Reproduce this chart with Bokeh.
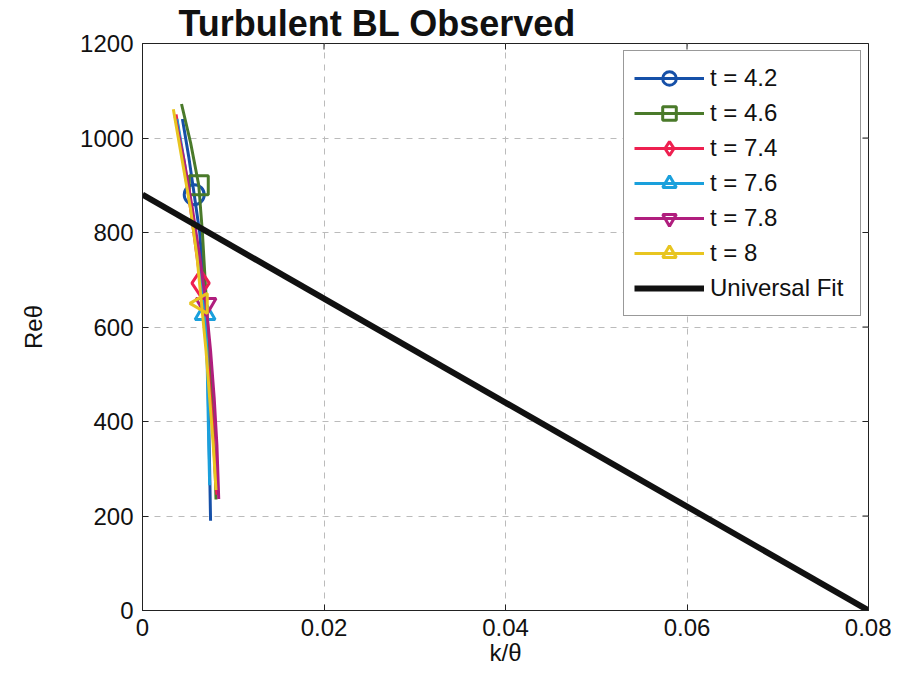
import math
from bokeh.plotting import figure
from bokeh.models import Range1d, FixedTicker, Legend, LegendItem, CustomJSTickFormatter
from bokeh.embed import file_html
from bokeh.resources import INLINE

# ---- data ----
labels = ["t = 4.2", "t = 4.6", "t = 7.4", "t = 7.6", "t = 7.8", "t = 8"]

x_t42 = [0.0044, 0.0051, 0.0057, 0.0063, 0.0067, 0.0070, 0.0072, 0.0073, 0.0074, 0.0075]
y_t42 = [1040, 960, 880, 800, 700, 600, 500, 400, 300, 190]

x_t46 = [0.0043, 0.0053, 0.0062, 0.0066, 0.0069, 0.0072, 0.0075, 0.0078, 0.0080, 0.0081]
y_t46 = [1072, 990, 900, 800, 700, 600, 500, 400, 300, 235]

x_t74 = [0.0037, 0.0045, 0.0053, 0.0060, 0.0064, 0.0069, 0.0073, 0.0077, 0.0080, 0.0082]
y_t74 = [1050, 950, 850, 750, 693, 600, 500, 400, 300, 245]

x_t76 = [0.0038, 0.0046, 0.0054, 0.0061, 0.0069, 0.0071, 0.0072, 0.0073, 0.0074]
y_t76 = [1040, 950, 850, 750, 628, 550, 450, 350, 265]

x_t78 = [0.0036, 0.0046, 0.0055, 0.0063, 0.0070, 0.0075, 0.0079, 0.0082, 0.0084]
y_t78 = [1045, 950, 850, 750, 648, 550, 450, 350, 236]

x_t8 = [0.0034, 0.0044, 0.0053, 0.0060, 0.0065, 0.0070, 0.0074, 0.0078, 0.0081]
y_t8 = [1061, 950, 850, 750, 650, 550, 450, 350, 255]

# single marker point shown on each curve
marker_x = [0.0057, 0.0062, 0.0064, 0.0069, 0.0070, 0.0065]
marker_y = [880, 900, 693, 628, 648, 650]

universal_x = [0.0, 0.08]
universal_y = [880, 0]

x_ticks = [0, 0.02, 0.04, 0.06, 0.08]
y_ticks = [0, 200, 400, 600, 800, 1000, 1200]

series_x = [x_t42, x_t46, x_t74, x_t76, x_t78, x_t8]
series_y = [y_t42, y_t46, y_t74, y_t76, y_t78, y_t8]
colors = ["#1650a8", "#4a7a2a", "#ee2050", "#1aa0dc", "#b01e7e", "#e8c520"]
markers = ["circle", "square", "diamond", "triangle", "inverted_triangle", "triangle"]
marker_angles = [0, 0, 0, 0, 0, math.pi / 2]
marker_sizes = [20, 19, 26, 20, 20, 20]

FONT = "Liberation Sans"
INK = "#111111"

p = figure(width=891, height=672, output_backend="svg", toolbar_location=None,
           x_range=Range1d(0, 0.08), y_range=Range1d(0, 1200),
           min_border_left=142, min_border_right=23, min_border_top=0, min_border_bottom=62)
p.background_fill_color = "white"
p.border_fill_color = "white"
p.outline_line_color = "#222222"
p.outline_line_width = 1

# title
p.title.text = "Turbulent BL Observed"
p.title.align = "left"
p.title.offset = 36
p.title.standoff = 0
p.title.text_font = FONT
p.title.text_font_size = "36px"
p.title.text_font_style = "bold"
p.title.text_color = INK

# axes
p.xaxis.ticker = FixedTicker(ticks=x_ticks)
p.yaxis.ticker = FixedTicker(ticks=y_ticks)
p.xaxis.formatter = CustomJSTickFormatter(code="return String(tick);")
p.yaxis.formatter = CustomJSTickFormatter(code="return String(tick);")
for ax in (p.xaxis[0], p.yaxis[0]):
    ax.major_tick_in = 6
    ax.major_tick_out = 0
    ax.minor_tick_line_color = None
    ax.major_label_text_font = FONT
    ax.major_label_text_font_size = "24px"
    ax.major_label_text_color = INK
    ax.axis_label_text_font = FONT
    ax.axis_label_text_font_size = "24px"
    ax.axis_label_text_font_style = "normal"
    ax.axis_label_text_color = INK
    ax.axis_line_color = "#222222"
    ax.major_tick_line_color = "#222222"
p.xaxis.axis_label = "k/θ"
p.xaxis.major_label_standoff = 8
p.xaxis.axis_label_standoff = 0
p.yaxis.axis_label = "Reθ"
p.yaxis.major_label_standoff = 9
p.yaxis.axis_label_standoff = 30

# grid
p.grid.grid_line_color = "#bbbbbb"
p.grid.grid_line_dash = "6 6"
p.grid.grid_line_width = 1

# inward tick marks on the top and right edges (half of each dash is clipped by the frame)
p.scatter(x=x_ticks, y=[y_ticks[-1]] * len(x_ticks), marker="dash", angle=math.pi / 2,
          size=12, line_color="#222222", line_width=1)
p.scatter(x=[x_ticks[-1]] * len(y_ticks), y=y_ticks, marker="dash",
          size=12, line_color="#222222", line_width=1)

items = []
for i in range(6):
    lr = p.line(series_x[i], series_y[i], line_color=colors[i], line_width=3)
    sr = p.scatter([marker_x[i]], [marker_y[i]], marker=markers[i], size=marker_sizes[i],
                   angle=marker_angles[i], fill_color=None, line_color=colors[i], line_width=3)
    items.append(LegendItem(label=labels[i], renderers=[lr, sr]))

ur = p.line(universal_x, universal_y, line_color=INK, line_width=6)
items.append(LegendItem(label="Universal Fit", renderers=[ur]))

legend = Legend(items=items, location="top_right")
legend.label_text_font = FONT
legend.label_text_font_size = "24px"
legend.label_text_color = INK
legend.glyph_width = 70
legend.glyph_height = 34
legend.label_height = 34
legend.label_width = 140
legend.label_standoff = 6
legend.spacing = 1
legend.padding = 10
legend.margin = 7
legend.border_line_color = "#333333"
legend.border_line_width = 1
legend.background_fill_color = "white"
legend.background_fill_alpha = 1
p.add_layout(legend)

open("out.html", "w").write(file_html(p, INLINE))
